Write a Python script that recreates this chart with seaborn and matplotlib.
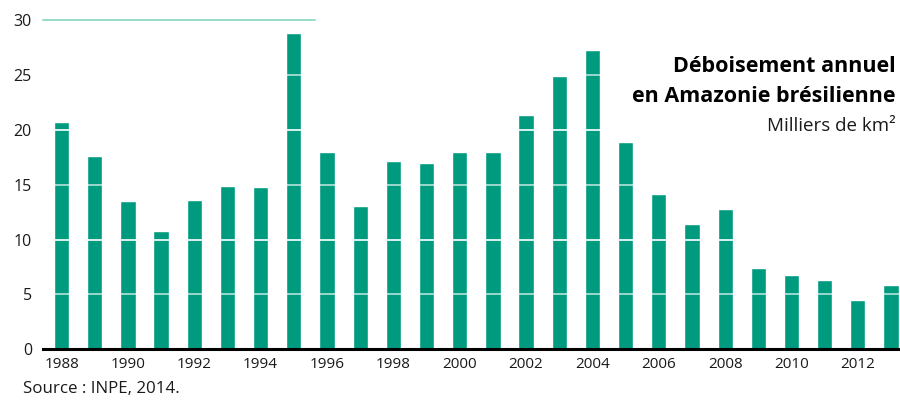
import matplotlib
matplotlib.use("Agg")
import matplotlib.pyplot as plt
import seaborn as sns
import pandas as pd

years = list(range(1988, 2014))
values = [20.75, 17.6, 13.5, 10.8, 13.6, 14.9, 14.8, 28.8, 18.0, 13.05,
          17.2, 17.0, 18.0, 18.0, 21.4, 24.95, 27.3, 18.9, 14.2, 11.4,
          12.8, 7.4, 6.8, 6.3, 4.45, 5.9]
yticks = [0, 5, 10, 15, 20, 25, 30]
title_lines = ["Déboisement annuel", "en Amazonie brésilienne"]
subtitle = "Milliers de km²"
source = "Source : INPE, 2014."

sns.set_theme(style="white")
plt.rcParams['font.family'] = ['Open Sans', 'DejaVu Sans']

df = pd.DataFrame({"year": [str(y) for y in years], "value": values})

fig = plt.figure(figsize=(9, 4.01), dpi=100)
ax = fig.add_axes([43/900, 1 - 349.3/401, 857/900, (349.3 - 20.3)/401])

bar_color = "#009B7F"
sns.barplot(data=df, x="year", y="value", color=bar_color, width=0.46,
            saturation=1, ax=ax, zorder=2)

ax.set_ylim(0, 30)
ax.set_xlim(-0.56, 25.27)

# gridlines over bars (white, invisible on the white background)
for v in [5, 10, 15, 20, 25]:
    a = 1.0 if v in (10, 20) else 0.7
    ax.axhline(v, color="white", alpha=a, lw=1.2, zorder=3)
ax.axhline(30, xmin=0, xmax=(315 - 43)/857, color="#8fd8c4", lw=1.3, zorder=3, clip_on=False)

for s in ["top", "right", "left"]:
    ax.spines[s].set_visible(False)
ax.spines["bottom"].set_linewidth(2.2)
ax.spines["bottom"].set_color("black")
ax.spines["bottom"].set_zorder(4)

ax.set_yticks(yticks)
ax.set_yticklabels([str(t) for t in yticks])
ax.set_xticks(range(len(years)))
ax.set_xticklabels([str(y) if (y % 2 == 0) else "" for y in years])
ax.tick_params(axis="y", length=0, pad=8, labelsize=11.5, labelcolor="#1a1a1a")
ax.tick_params(axis="x", length=0, pad=5.5, labelsize=11, labelcolor="#1a1a1a")
ax.set_xlabel("")
ax.set_ylabel("")

fig.text(896/900, 1 - 72/401, title_lines[0], ha="right", va="baseline",
         fontsize=15.5, fontweight="bold", color="black")
fig.text(896/900, 1 - 102/401, title_lines[1], ha="right", va="baseline",
         fontsize=15.5, fontweight="bold", color="black")
fig.text(896/900, 1 - 131/401, subtitle, ha="right", va="baseline",
         fontsize=13.5, color="#1a1a1a")
fig.text(23/900, 1 - 393/401, source, ha="left", va="baseline",
         fontsize=12.2, color="#1a1a1a")

fig.savefig("out.png", dpi=100)
